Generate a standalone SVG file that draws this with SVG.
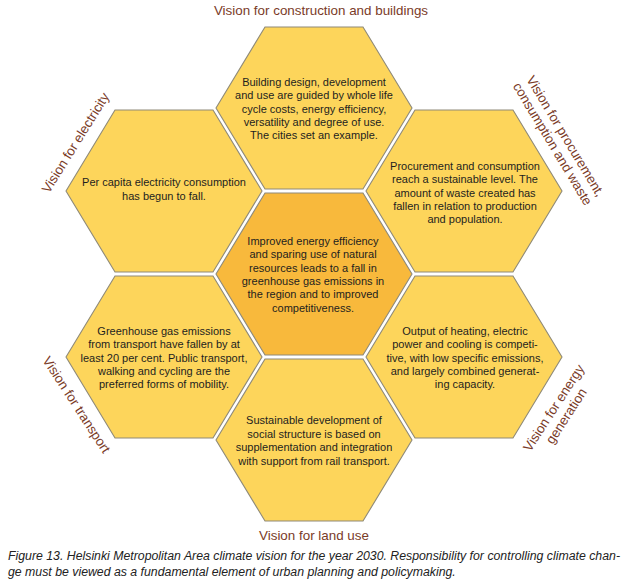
<svg xmlns="http://www.w3.org/2000/svg" xmlns:xlink="http://www.w3.org/1999/xlink" width="626" height="586" viewBox="0 0 626 586">
<style>
.hex{fill:#FDD55B;stroke:#8f8a78;stroke-width:1.1}
.core{fill:#F8B93C;stroke:#8f8a78;stroke-width:1.1}
.t{font-family:"Liberation Sans",Arial,sans-serif;font-size:11px;fill:#1e1e1e;text-anchor:middle}
.lab{font-family:"Liberation Sans",Arial,sans-serif;font-size:13.4px;fill:#7a3b28;text-anchor:middle}
.cap{font-family:"Liberation Sans",Arial,sans-serif;font-size:12.3px;font-style:italic;fill:#222}
</style>
<defs>
<path id="hexshape" d="M-98,0 L-49,-81 L49,-81 L98,0 L49,81 L-49,81 Z"/>
</defs>
<rect width="626" height="586" fill="#fff"/>

<g id="node-construction">
<use xlink:href="#hexshape" href="#hexshape" class="hex" transform="translate(314,108)"/>
<text class="t" x="314" y="86">Building design, development</text>
<text class="t" x="314" y="99.3">and use are guided by whole life</text>
<text class="t" x="314" y="112.6">cycle costs, energy efficiency,</text>
<text class="t" x="314" y="125.9">versatility and degree of use.</text>
<text class="t" x="314" y="139.2">The cities set an example.</text>
</g>

<g id="node-electricity">
<use xlink:href="#hexshape" href="#hexshape" class="hex" transform="translate(164,191)"/>
<text class="t" x="164" y="186">Per capita electricity consumption</text>
<text class="t" x="164" y="199.5">has begun to fall.</text>
</g>

<g id="node-procurement">
<use xlink:href="#hexshape" href="#hexshape" class="hex" transform="translate(464,191)"/>
<text class="t" x="465" y="170">Procurement and consumption</text>
<text class="t" x="465" y="183.3">reach a sustainable level. The</text>
<text class="t" x="465" y="196.6">amount of waste created has</text>
<text class="t" x="465" y="209.9">fallen in relation to production</text>
<text class="t" x="465" y="223.2">and population.</text>
</g>

<g id="node-center">
<use xlink:href="#hexshape" href="#hexshape" class="core" transform="translate(314,274)"/>
<text class="t" x="313" y="245">Improved energy efficiency</text>
<text class="t" x="313" y="258.3">and sparing use of natural</text>
<text class="t" x="313" y="271.6">resources leads to a fall in</text>
<text class="t" x="313" y="284.9">greenhouse gas emissions in</text>
<text class="t" x="313" y="298.2">the region and to improved</text>
<text class="t" x="313" y="311.5">competitiveness.</text>
</g>

<g id="node-transport">
<use xlink:href="#hexshape" href="#hexshape" class="hex" transform="translate(164,357)"/>
<text class="t" x="164" y="335">Greenhouse gas emissions</text>
<text class="t" x="164" y="348.3">from transport have fallen by at</text>
<text class="t" x="164" y="361.6">least 20 per cent. Public transport,</text>
<text class="t" x="164" y="374.9">walking and cycling are the</text>
<text class="t" x="164" y="388.2">preferred forms of mobility.</text>
</g>

<g id="node-energy">
<use xlink:href="#hexshape" href="#hexshape" class="hex" transform="translate(464,357)"/>
<text class="t" x="465" y="335">Output of heating, electric</text>
<text class="t" x="465" y="348.3">power and cooling is competi-</text>
<text class="t" x="465" y="361.6">tive, with low specific emissions,</text>
<text class="t" x="465" y="374.9">and largely combined generat-</text>
<text class="t" x="465" y="388.2">ing capacity.</text>
</g>

<g id="node-landuse">
<use xlink:href="#hexshape" href="#hexshape" class="hex" transform="translate(314,440)"/>
<text class="t" x="314" y="424">Sustainable development of</text>
<text class="t" x="314" y="437.5">social structure is based on</text>
<text class="t" x="314" y="451">supplementation and integration</text>
<text class="t" x="314" y="464.5">with support from rail transport.</text>
</g>

<g id="labels">
<text class="lab" x="321" y="15">Vision for construction and buildings</text>
<text class="lab" x="314" y="540">Vision for land use</text>
<g transform="translate(76,143) rotate(-58)"><text class="lab" x="0" y="4">Vision for electricity</text></g>
<g transform="translate(559,140) rotate(59)"><text class="lab" x="0" y="-3">Vision for procurement,</text><text class="lab" x="0" y="12">consumption and waste</text></g>
<g transform="translate(76,405) rotate(57)"><text class="lab" x="0" y="4">Vision for transport</text></g>
<g transform="translate(560,412) rotate(-57)"><text class="lab" x="0" y="-3">Vision for energy</text><text class="lab" x="0" y="12">generation</text></g>
</g>

<g id="caption">
<text class="cap" x="8" y="560" textLength="612" lengthAdjust="spacingAndGlyphs">Figure 13. Helsinki Metropolitan Area climate vision for the year 2030. Responsibility for controlling climate chan-</text>
<text class="cap" x="8" y="576">ge must be viewed as a fundamental element of urban planning and policymaking.</text>
</g>
</svg>
